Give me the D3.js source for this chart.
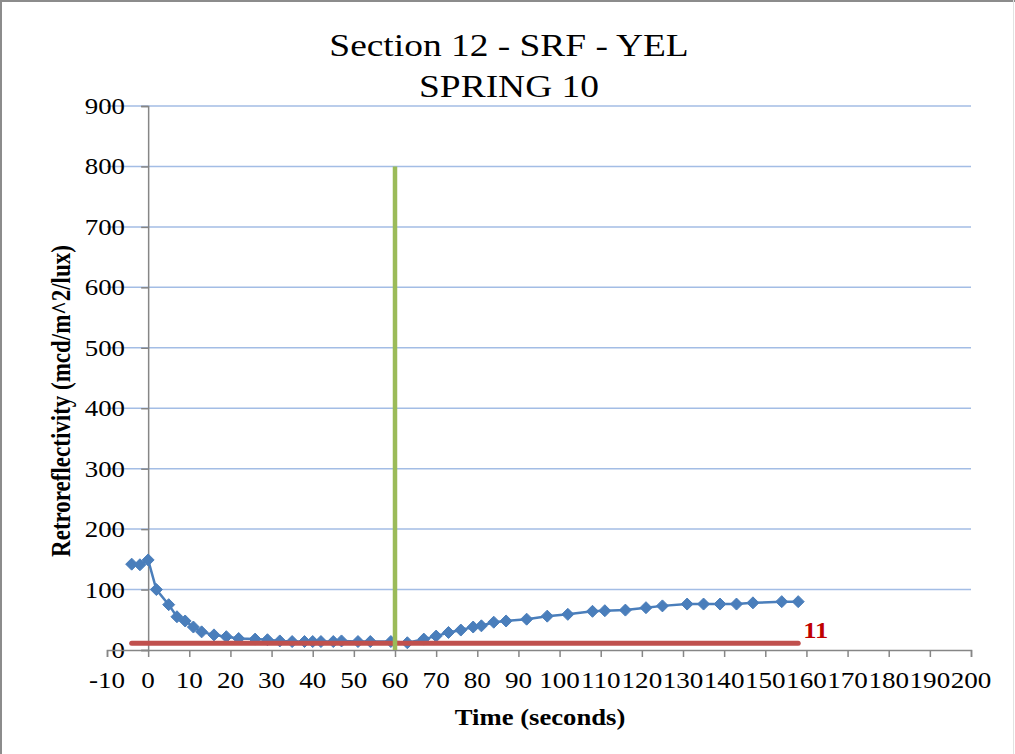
<!DOCTYPE html>
<html>
<head>
<meta charset="utf-8">
<script src="https://cdn.jsdelivr.net/npm/d3@7"></script>
<style>
  html, body { margin: 0; padding: 0; background: #fff; }
  svg { display: block; }
</style>
</head>
<body>
<svg id="chart" width="1015" height="754"></svg>
<script>
// ---- data ----
const titleLines = ["Section 12 - SRF - YEL", "SPRING 10"];
const xTitle = "Time (seconds)";
const yTitle = "Retroreflectivity (mcd/m^2/lux)";
const xTicks = [-10, 0, 10, 20, 30, 40, 50, 60, 70, 80, 90, 100, 110, 120, 130, 140, 150, 160, 170, 180, 190, 200];
const yTicks = [0, 100, 200, 300, 400, 500, 600, 700, 800, 900];
const times = [-4, -2, 0, 2, 5, 7, 9, 11, 13, 16, 19, 22, 26, 29, 32, 35, 38, 40, 42, 45, 47, 51, 54, 59, 63,
               67, 70, 73, 76, 79, 81, 84, 87, 92, 97, 102, 108, 111, 116, 121, 125, 131, 135, 139, 143, 147, 154, 158];
const retro = [142, 141, 149, 100, 75, 55, 48, 38, 30, 25, 22, 19, 18, 17, 15, 14, 14, 14, 14, 14, 15, 14, 14, 14, 12,
               18, 23, 29, 33, 38, 40, 46, 48, 51, 56, 59, 64, 65, 66, 70, 73, 76, 76, 76, 76, 78, 80, 80];
const thresholdValue = 11;
const thresholdRange = [-4, 158];
const markerTime = 60;
const markerRange = [0, 800];

// ---- layout ----
const FONT = "'Liberation Serif', 'Times New Roman', serif";
const SX = 1.15; // horizontal stretch of the reference rendering
const svg = d3.select("#chart");
const x = d3.scaleLinear().domain([-10, 200]).range([107, 971]);
const y = d3.scaleLinear().domain([0, 900]).range([650, 106]);
const axisColor = "#868686";
const fmt = d => String(d); // plain hyphen minus

function label(px, py, txt, size, opts = {}) {
  const sx = opts.sx || SX;
  const rot = opts.rotate ? ` rotate(${opts.rotate})` : "";
  return svg.append("text")
    .attr("transform", `translate(${px},${py}) scale(${sx},1)${rot}`)
    .attr("text-anchor", opts.anchor || "middle")
    .style("font-family", FONT)
    .style("font-size", size + "px")
    .style("font-weight", opts.bold ? "bold" : "normal")
    .style("fill", opts.fill || "#000")
    .text(txt);
}

// outer border
svg.append("line").attr("x1", 1).attr("x2", 1).attr("y1", 0).attr("y2", 754).attr("stroke", "#8c8c8c").attr("stroke-width", 2);
svg.append("line").attr("x1", 0).attr("x2", 1015).attr("y1", 1).attr("y2", 1).attr("stroke", "#8c8c8c").attr("stroke-width", 2);
svg.append("line").attr("x1", 1013.5).attr("x2", 1013.5).attr("y1", 0).attr("y2", 754).attr("stroke", "#e2e2e2").attr("stroke-width", 1);

// gridlines
svg.append("g").selectAll("line").data(yTicks.filter(d => d > 0)).join("line")
  .attr("x1", x(-10)).attr("x2", x(200))
  .attr("y1", d => y(d)).attr("y2", d => y(d))
  .attr("stroke", "#a3bde5").attr("stroke-width", 1.5);

// y axis at x=0
const yAxis = d3.axisLeft(y).tickValues(yTicks).tickSize(7).tickFormat(fmt);
const gy = svg.append("g").attr("transform", `translate(${x(0)},0)`).call(yAxis);
gy.select(".domain").attr("stroke", axisColor).attr("stroke-width", 1.5);
gy.selectAll(".tick line").attr("stroke", axisColor).attr("stroke-width", 1.5);
gy.selectAll(".tick text").remove();
yTicks.forEach(v => label(125, y(v) + 8, fmt(v), 24, { anchor: "end", sx: 1.12 }));

// x axis at y=0
const xAxis = d3.axisBottom(x).tickValues(xTicks).tickSize(7).tickFormat(fmt);
const gx = svg.append("g").attr("transform", `translate(0,${y(0)})`).call(xAxis);
gx.select(".domain").attr("stroke", axisColor).attr("stroke-width", 1.5);
gx.selectAll(".tick line").attr("stroke", axisColor).attr("stroke-width", 1.5);
gx.selectAll(".tick text").remove();
xTicks.forEach(v => label(x(v), 688, fmt(v), 24, { sx: 1.13 }));

// data series
const pts = times.map((t, i) => [t, retro[i]]);
svg.append("path").datum(pts)
  .attr("fill", "none").attr("stroke", "#4a7ebb").attr("stroke-width", 2.5)
  .attr("d", d3.line().x(d => x(d[0])).y(d => y(d[1])));
const r = 6;
svg.append("g").selectAll("path").data(pts).join("path")
  .attr("d", d => `M${x(d[0])},${y(d[1]) - r}L${x(d[0]) + r},${y(d[1])}L${x(d[0])},${y(d[1]) + r}L${x(d[0]) - r},${y(d[1])}Z`)
  .attr("fill", "#4a7ebb").attr("stroke", "#4a7ebb").attr("stroke-width", 1);

// threshold line (drawn over the series)
svg.append("line")
  .attr("x1", x(thresholdRange[0])).attr("x2", x(thresholdRange[1]))
  .attr("y1", y(thresholdValue)).attr("y2", y(thresholdValue))
  .attr("stroke", "#c0504d").attr("stroke-width", 5).attr("stroke-linecap", "round");
label(x(thresholdRange[1]) + 5, y(thresholdValue) - 5, String(thresholdValue), 23,
      { anchor: "start", bold: true, fill: "#c00000" });

// vertical marker line
svg.append("line")
  .attr("x1", x(markerTime)).attr("x2", x(markerTime))
  .attr("y1", y(markerRange[0])).attr("y2", y(markerRange[1]))
  .attr("stroke", "#9bbb59").attr("stroke-width", 4.5);

// titles
label(509, 56, titleLines[0], 32, { sx: 1.17 });
label(509, 97, titleLines[1], 32, { sx: 1.17 });
label(540, 725, xTitle, 23, { bold: true, sx: 1.16 });
label(70, 401, yTitle, 23, { bold: true, rotate: -90 });
</script>
</body>
</html>
